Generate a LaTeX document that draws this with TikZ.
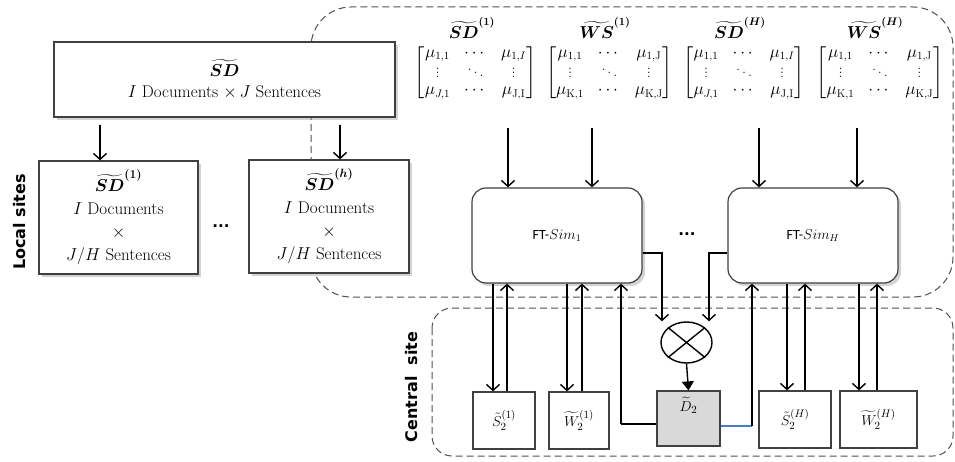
\documentclass[tikz,border=0pt]{standalone}
\usepackage{amsmath,bm}
\usepackage{fontspec}
\usetikzlibrary{arrows.meta,shapes.geometric,shadows}
\newfontfamily\sitefont{DejaVu Sans}
\newfontfamily\ftfont{Carlito}
\definecolor{boxline}{HTML}{404040}
\definecolor{dashline}{HTML}{505050}
\definecolor{dfill}{HTML}{D9D9D9}
\definecolor{blueline}{HTML}{4A7EBB}
\begin{document}
\begin{tikzpicture}[x=1pt,y=-1pt,
  arr/.style={-{Straight Barb[length=6pt,width=13pt]}, line width=1.4pt},
  farr/.style={-{Triangle[length=9pt,width=12pt]}, line width=1.4pt},
  plainline/.style={line width=1.4pt},
  region/.style={draw=dashline, line width=1pt, dash pattern=on 7pt off 4pt},
  box/.style={draw=boxline, line width=1.2pt, fill=white, inner sep=0pt, align=center,
    drop shadow={shadow xshift=3pt, shadow yshift=-3pt, opacity=0.35}},
  bigtext/.style={font=\fontsize{17}{23}\selectfont},
  ftbox/.style={box, rounded corners=14pt, minimum width=170pt, minimum height=95pt, font=\fontsize{14}{16}\selectfont},
  cbox/.style={draw=boxline, line width=1.2pt, fill=white, inner sep=0pt, minimum height=57pt, align=center, font=\fontsize{15}{17}\selectfont},
  mat/.style={inner sep=0pt, font=\fontsize{16}{17}\selectfont},
  matlabel/.style={inner sep=0pt, font=\fontsize{16}{18}\selectfont},
  sitelabel/.style={rotate=90, font=\sitefont\bfseries\fontsize{16}{18}\selectfont},
  dotsnode/.style={font=\sitefont\bfseries\fontsize{15}{18}\selectfont}
]
\useasboundingbox (0,0) rectangle (955,462);

% regions
\draw[region, rounded corners=40pt] (311,7) rectangle (953,297);
\draw[region, rounded corners=20pt] (432,308) rectangle (953,456);

% site labels
\node[sitelabel] (locallbl) at (20,222) {Local sites};
\node[sitelabel] (centrallbl) at (412,387) {Central\ \ site};

% left boxes
\node[box, bigtext, minimum width=341pt, minimum height=75pt] (sd) at (224.5,79.5)
  {$\bm{\widetilde{SD}}$\\[-2pt]$I$ Documents $\times\, J$ Sentences};
\node[box, bigtext, minimum width=159pt, minimum height=113pt] (sd1) at (118.5,217.5)
  {$\bm{\widetilde{SD}^{(1)}}$\\$I$ Documents\\$\times$\\$J/H$ Sentences};
\node[box, bigtext, minimum width=160pt, minimum height=113pt] (sdh) at (329,216.5)
  {$\bm{\widetilde{SD}^{(h)}}$\\$I$ Documents\\$\times$\\$J/H$ Sentences};
\node[dotsnode] (dotsl) at (221,226) {...};

\coordinate (q1) at (100,125);
\coordinate (q2) at (340,125);
\draw[arr] (q1) -- (q1 |- sd1.north);
\draw[arr] (q2) -- (q2 |- sdh.north);

% matrices
\arraycolsep=7pt
\node[matlabel] (l1) at (472,28) {$\bm{\widetilde{SD}^{(1)}}$};
\node[matlabel] (l2) at (605,28) {$\bm{\widetilde{WS}^{(1)}}$};
\node[matlabel] (l3) at (740,28) {$\bm{\widetilde{SD}^{(H)}}$};
\node[matlabel] (l4) at (875,28) {$\bm{\widetilde{WS}^{(H)}}$};
\node[mat] (m1) at (475.5,72.5) {$\begin{bmatrix}\mu_{1,1} & \cdots & \mu_{1,I}\\ \vdots & \ddots & \vdots\\ \mu_{J,1} & \cdots & \mu_{\mathrm{J},\mathrm{I}}\end{bmatrix}$};
\node[mat] (m2) at (609.5,72.5) {$\begin{bmatrix}\mu_{1,1} & \cdots & \mu_{1,\mathrm{J}}\\ \vdots & \ddots & \vdots\\ \mu_{\mathrm{K},1} & \cdots & \mu_{\mathrm{K},\mathrm{J}}\end{bmatrix}$};
\node[mat] (m3) at (744,72.5) {$\begin{bmatrix}\mu_{1,1} & \cdots & \mu_{1,I}\\ \vdots & \ddots & \vdots\\ \mu_{J,1} & \cdots & \mu_{\mathrm{J},\mathrm{I}}\end{bmatrix}$};
\node[mat] (m4) at (880,72.5) {$\begin{bmatrix}\mu_{1,1} & \cdots & \mu_{1,\mathrm{J}}\\ \vdots & \ddots & \vdots\\ \mu_{\mathrm{K},1} & \cdots & \mu_{\mathrm{K},\mathrm{J}}\end{bmatrix}$};

% FT boxes
\node[ftbox] (ft1) at (557,235.5) {{\ftfont FT-}$Sim_1$};
\node[ftbox] (fth) at (813,235.5) {{\ftfont FT-}$Sim_H$};
\node[dotsnode] (dotsm) at (687,234) {...};

\coordinate (p1) at (508,128);
\coordinate (p2) at (592,128);
\coordinate (p3) at (759,128);
\coordinate (p4) at (857,128);
\foreach \p in {p1,p2}{\draw[arr] (\p) -- (\p |- ft1.north);}
\foreach \p in {p3,p4}{\draw[arr] (\p) -- (\p |- fth.north);}

% central site nodes
\node[cbox, minimum width=62pt] (s1) at (504,420.5) {$\tilde{S}_2^{(1)}$};
\node[cbox, minimum width=60pt] (w1) at (579,420.5) {$\widetilde{W}_2^{(1)}$};
\node[cbox, minimum width=63pt, minimum height=55pt, fill=dfill] (d2) at (688.5,418.5) {$\widetilde{D}_2$\\[12pt]};
\node[cbox, minimum width=72pt] (sh) at (795,419.5) {$\tilde{S}_2^{(H)}$};
\node[cbox, minimum width=77pt] (wh) at (878.5,419.5) {$\widetilde{W}_2^{(H)}$};
\node[draw, ellipse, line width=1.4pt, minimum width=51pt, minimum height=41pt, inner sep=0pt] (ot) at (686.5,342.5) {};
\draw[line width=1.4pt] (ot.north west) -- (ot.south east) (ot.north east) -- (ot.south west);

% FT <-> central boxes
\coordinate (a1) at (493,0); \coordinate (b1) at (507,0);
\coordinate (a2) at (567,0); \coordinate (b2) at (582,0);
\coordinate (a3) at (787,0); \coordinate (b3) at (805,0);
\coordinate (a4) at (859,0); \coordinate (b4) at (877,0);
\draw[arr] (a1 |- ft1.south) -- (a1 |- s1.north);
\draw[arr] (b1 |- s1.north) -- (b1 |- ft1.south);
\draw[arr] (a2 |- ft1.south) -- (a2 |- w1.north);
\draw[arr] (b2 |- w1.north) -- (b2 |- ft1.south);
\draw[arr] (a3 |- fth.south) -- (a3 |- sh.north);
\draw[arr] (b3 |- sh.north) -- (b3 |- fth.south);
\draw[arr] (a4 |- fth.south) -- (a4 |- wh.north);
\draw[arr] (b4 |- wh.north) -- (b4 |- fth.south);

% FT -> otimes
\coordinate (c1) at (662,253);
\coordinate (c2) at (709,253);
\draw[arr] (c1 -| ft1.east) -- (c1) -- (c1 |- ot.north);
\draw[arr] (c2 -| fth.west) -- (c2) -- (c2 |- ot.north);
\draw[farr] (ot.south) -- (d2.north);

% D2 -> FT
\coordinate (e1) at (621,424);
\coordinate (e2) at (752,426);
\draw[plainline] (e1 -| d2.west) -- (e1);
\draw[arr] (e1) -- (e1 |- ft1.south);
\draw[plainline, blueline] (e2 -| d2.east) -- (e2);
\draw[arr] (e2) -- (e2 |- fth.south);
\end{tikzpicture}
\end{document}
